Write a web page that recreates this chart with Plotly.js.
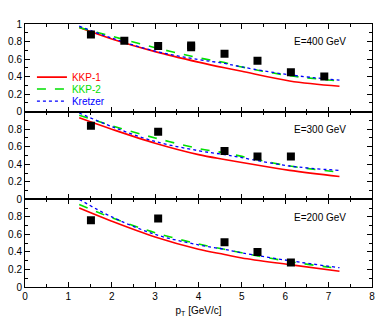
<!DOCTYPE html>
<html><head><meta charset="utf-8">
<script src="https://cdn.plot.ly/plotly-3.0.1.min.js"></script>
<style>body{margin:0}#c{width:389px;height:325px}</style></head>
<body><div id="c"></div>
<script>
// theory curve x grid
const xTh = [1.25, 2, 3, 4, 4.6, 5, 6.1, 7.25];
// E=400 GeV
const kkp1_400 = [0.96, 0.83, 0.685, 0.565, 0.50, 0.46, 0.35, 0.29];
const kkp2_400 = [0.96, 0.86, 0.73, 0.615, 0.56, 0.51, 0.41, 0.35];
const kre_400  = [0.975, 0.84, 0.69, 0.595, 0.55, 0.51, 0.42, 0.36];
const dx_400 = [1.52, 2.29, 3.07, 3.83, 3.83, 4.6, 5.36, 6.13, 6.9];
const dy_400 = [0.88, 0.81, 0.75, 0.755, 0.735, 0.66, 0.58, 0.45, 0.40];
// E=300 GeV
const kkp1_300 = [0.93, 0.80, 0.64, 0.51, 0.455, 0.42, 0.33, 0.26];
const kkp2_300 = [0.96, 0.84, 0.70, 0.58, 0.53, 0.49, 0.38, 0.31];
const kre_300  = [0.985, 0.83, 0.66, 0.555, 0.51, 0.475, 0.38, 0.33];
const dx_300 = [1.52, 3.07, 4.6, 5.36, 6.13];
const dy_300 = [0.84, 0.77, 0.55, 0.49, 0.49];
// E=200 GeV
const kkp1_200 = [0.90, 0.75, 0.57, 0.43, 0.37, 0.33, 0.255, 0.18];
const kkp2_200 = [0.94, 0.79, 0.62, 0.49, 0.43, 0.39, 0.29, 0.21];
const kre_200  = [1.0, 0.80, 0.60, 0.48, 0.43, 0.39, 0.30, 0.22];
const dx_200 = [1.52, 3.07, 4.6, 5.36, 6.13];
const dy_200 = [0.76, 0.78, 0.51, 0.40, 0.28];

const energies = ['E=400 GeV', 'E=300 GeV', 'E=200 GeV'];
const names = ['KKP-1', 'KKP-2', 'Kretzer'];
const yTicksTop = [0, 0.2, 0.4, 0.6, 0.8, 1];
const yLabelsTop = ['0', '0.2', '0.4', '0.6', '0.8', '1'];
const yTicksLow = [0, 0.2, 0.4, 0.6, 0.8];
const yLabelsLow = ['0', '0.2', '0.4', '0.6', '0.8'];
const xTickVals = [0, 1, 2, 3, 4, 5, 6, 7, 8];

const styles = [
  {color: '#ff0000', dash: 'solid', width: 1.6},
  {color: '#00e000', dash: 'dash', width: 1.6},
  {color: '#0000ff', dash: 'dot', width: 1.3}
];
const legendIds = ['legend', 'legend2', 'legend3'];
const panels = [
  {ax: '3', curves: [kkp1_400, kkp2_400, kre_400], dx: dx_400, dy: dy_400},
  {ax: '2', curves: [kkp1_300, kkp2_300, kre_300], dx: dx_300, dy: dy_300},
  {ax: '',  curves: [kkp1_200, kkp2_200, kre_200], dx: dx_200, dy: dy_200}
];
const traces = [];
panels.forEach((p, pi) => {
  p.curves.forEach((c, ci) => {
    traces.push({
      x: xTh, y: c, mode: 'lines', type: 'scatter',
      line: {color: styles[ci].color, dash: styles[ci].dash, width: styles[ci].width, shape: 'spline'},
      xaxis: 'x' + p.ax, yaxis: 'y' + p.ax,
      name: '<span style="color:' + styles[ci].color + '">' + names[ci] + '</span>',
      showlegend: pi === 0, legend: legendIds[ci]
    });
  });
  traces.push({
    x: p.dx, y: p.dy, mode: 'markers', type: 'scatter',
    marker: {symbol: 'square', size: 8, color: '#000'},
    xaxis: 'x' + p.ax, yaxis: 'y' + p.ax, showlegend: false
  });
});

const font = {family: 'Liberation Sans, Arial, sans-serif', size: 10, color: '#000'};
function xax(anchor, labels) {
  return {range: [0, 8], anchor: anchor, tickvals: xTickVals, showticklabels: labels, ticks: 'inside', ticklen: 5,
    mirror: 'allticks', showline: true, linecolor: '#000', linewidth: 1, showgrid: false, zeroline: false,
    minor: {ticks: 'inside', dtick: 0.5, ticklen: 3, tickcolor: '#000'}, tickfont: font, tickcolor: '#000'};
}
function yax(dom, anchor, vals, labels) {
  return {range: [0, 1], domain: dom, anchor: anchor, tickvals: vals, ticktext: labels,
    ticks: 'inside', ticklen: 5, mirror: 'allticks', showline: true, linecolor: '#000', linewidth: 1,
    showgrid: false, zeroline: false, minor: {ticks: 'inside', dtick: 0.1, ticklen: 3, tickcolor: '#000'},
    tickfont: font, tickcolor: '#000'};
}
const legBase = {x: 0.02, xanchor: 'left', yanchor: 'middle', bgcolor: 'rgba(0,0,0,0)', font: font,
  itemwidth: 30, borderwidth: 0};
const layout = {
  width: 389, height: 325, margin: {l: 25, r: 17, t: 24, b: 38},
  paper_bgcolor: '#fff', plot_bgcolor: '#fff', font: font,
  xaxis: Object.assign(xax('y', true), {title: {text: 'p<sub>T</sub> [GeV/c]', font: font, standoff: 5}}),
  xaxis2: xax('y2', false),
  xaxis3: xax('y3', false),
  yaxis: yax([0, 1/3], 'x', yTicksLow, yLabelsLow),
  yaxis2: yax([1/3, 2/3], 'x2', yTicksLow, yLabelsLow),
  yaxis3: yax([2/3, 1], 'x3', yTicksTop, yLabelsTop),
  showlegend: true,
  legend: Object.assign({}, legBase, {y: 0.798}),
  legend2: Object.assign({}, legBase, {y: 0.753}),
  legend3: Object.assign({}, legBase, {y: 0.707}),
  annotations: energies.map((t, i) => ({
    text: t, xref: 'paper', yref: 'paper', x: 0.93, xanchor: 'right',
    y: [1, 2/3, 1/3][i] - 0.068, yanchor: 'middle', showarrow: false, font: font
  }))
};
Plotly.newPlot('c', traces, layout, {displayModeBar: false, staticPlot: true});
</script></body></html>
